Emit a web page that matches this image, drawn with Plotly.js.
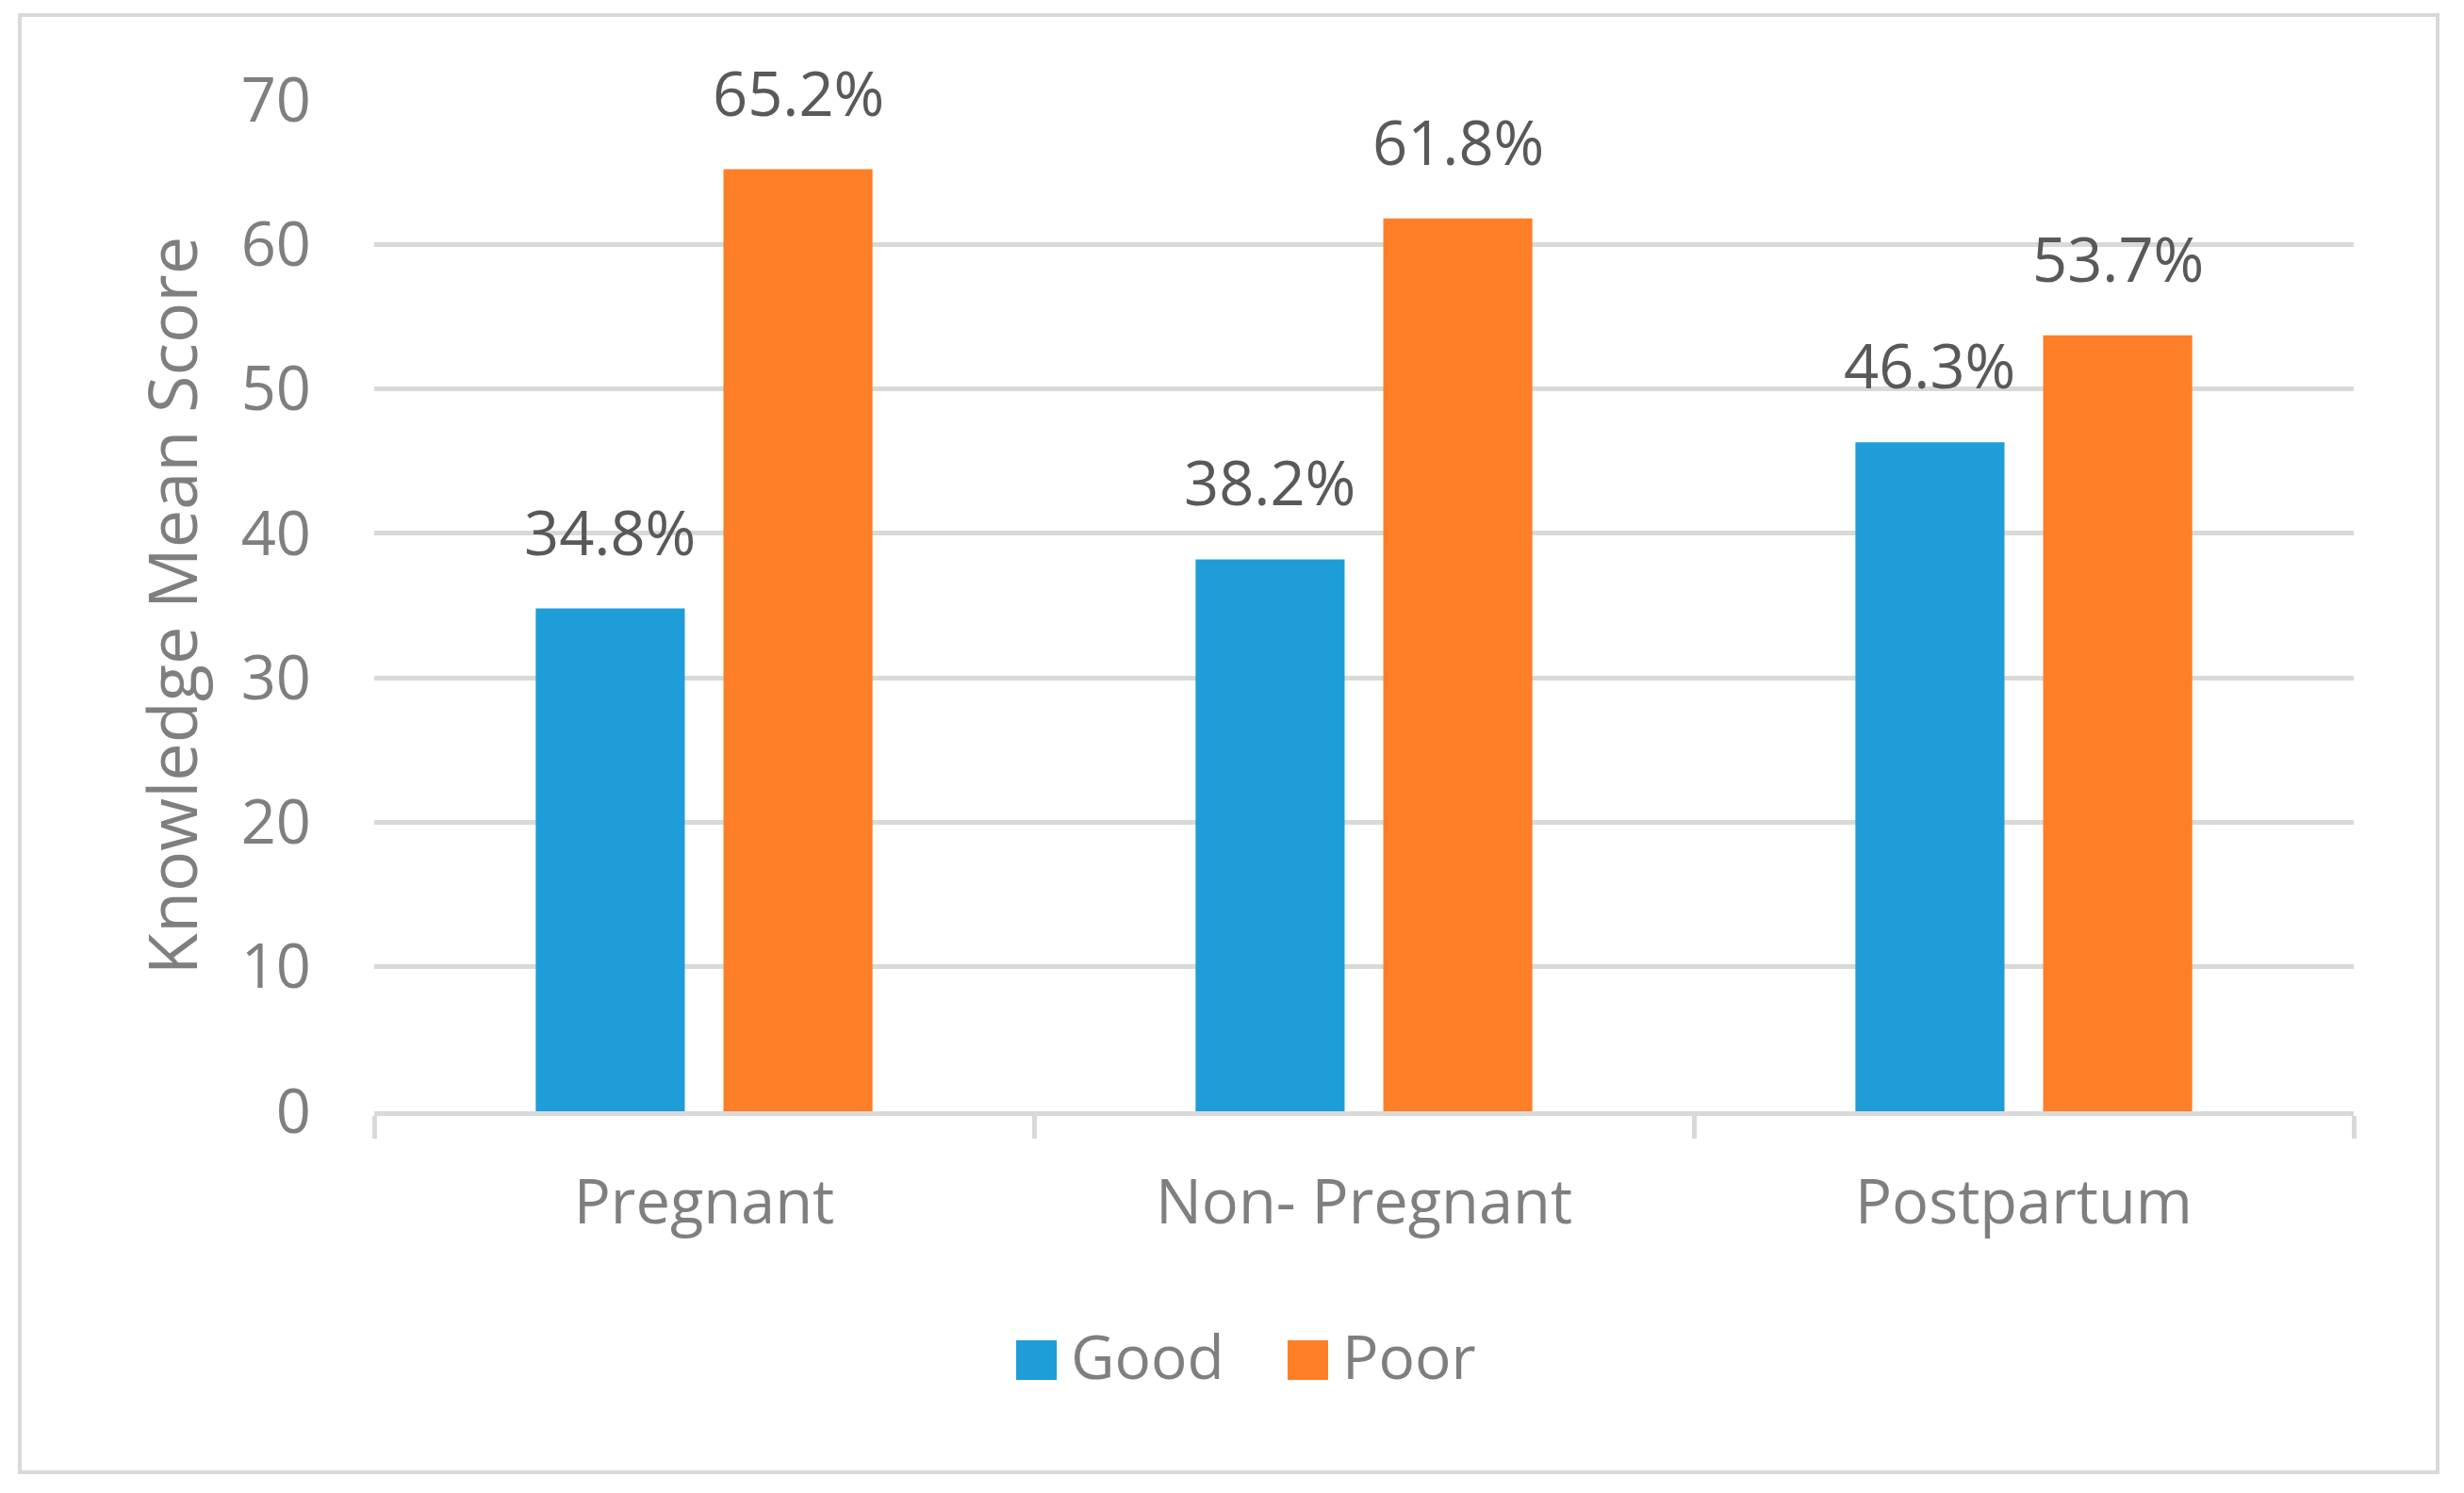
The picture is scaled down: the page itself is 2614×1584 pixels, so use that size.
<!DOCTYPE html>
<html>
<head>
<meta charset="utf-8">
<script src="https://cdn.plot.ly/plotly-3.0.1.min.js"></script>
<style>html,body{margin:0;padding:0;background:#fff;}#chart{width:2614px;height:1584px;}</style>
</head>
<body>
<div id="chart"></div>
<script>
// ---- data ----
const categories = ["Pregnant", "Non- Pregnant", "Postpartum"];
const seriesNames = ["Good", "Poor"];
const goodValues = [34.8, 38.2, 46.3];
const poorValues = [65.2, 61.8, 53.7];
const seriesColors = ["#1E9DD8", "#FE7F27"];
const yTickVals = [0, 10, 20, 30, 40, 50, 60, 70];
const yTitle = "Knowledge Mean Score";

// ---- layout constants ----
const W = 2614, H = 1584;
const M = {l: 397, r: 117, t: 106, b: 405};
const plotW = W - M.l - M.r, plotH = H - M.t - M.b;
const bargap = 0.431, bargroupgap = 0.206;
const FONT = "Open Sans, Liberation Sans, sans-serif";
const grey = "#7f7f7f", labelGrey = "#595959", lineGrey = "#d9d9d9";

const allValues = [goodValues, poorValues];
const traces = allValues.map((vals, i) => ({
  type: "bar",
  name: seriesNames[i],
  x: categories,
  y: vals,
  marker: {color: seriesColors[i], line: {width: 0}},
  showlegend: false,
  hoverinfo: "x+y+name"
}));

// data labels as annotations positioned on the axis scale
const catPx = plotW / categories.length;
const slotPx = catPx * (1 - bargap) / seriesNames.length;
const annotations = [];
allValues.forEach((vals, i) => {
  const off = (i - (seriesNames.length - 1) / 2) * slotPx;
  vals.forEach((v, j) => {
    annotations.push({
      x: categories[j], y: v, xref: "x", yref: "y",
      text: v.toFixed(1) + "%", showarrow: false,
      xanchor: "center", yanchor: "bottom",
      xshift: off, yshift: 36,
      font: {family: FONT, size: 65, color: labelGrey}
    });
  });
});

// custom legend (large swatches)
const shapes = [];
const legendY0 = -0.2265, legendY1 = -0.2656;
const swatchX = [0.3243, 0.4614];
const swatchW = 0.0205;
seriesNames.forEach((nm, i) => {
  shapes.push({type: "rect", xref: "paper", yref: "paper",
    x0: swatchX[i], x1: swatchX[i] + swatchW, y0: legendY1, y1: legendY0,
    fillcolor: seriesColors[i], line: {width: 0}});
  annotations.push({xref: "paper", yref: "paper", x: swatchX[i] + swatchW + 0.006,
    y: (legendY0 + legendY1) / 2 + 0.004, xanchor: "left", yanchor: "middle",
    text: nm, showarrow: false, font: {family: FONT, size: 64, color: grey}});
});
// outer chart border
shapes.push({type: "rect", xref: "paper", yref: "paper",
  x0: (21 - M.l) / plotW, x1: (2586 - M.l) / plotW,
  y0: -(1562 - (M.t + plotH)) / plotH, y1: 1 + (M.t - 16) / plotH,
  line: {color: lineGrey, width: 4}, fillcolor: "rgba(0,0,0,0)", layer: "below"});

const layout = {
  width: W, height: H,
  margin: M,
  paper_bgcolor: "#fff", plot_bgcolor: "#fff",
  barmode: "group", bargap: bargap, bargroupgap: bargroupgap,
  showlegend: false,
  font: {family: FONT, color: grey},
  xaxis: {
    type: "category",
    showline: true, linecolor: lineGrey, linewidth: 5,
    ticks: "outside", tickson: "boundaries", ticklen: 24, tickwidth: 5, tickcolor: lineGrey,
    tickfont: {family: FONT, size: 65, color: grey},
    ticklabelstandoff: 36,
    showgrid: false, zeroline: false, fixedrange: true
  },
  yaxis: {
    range: [0, 70], tickvals: yTickVals,
    showline: false, ticks: "", zeroline: false,
    showgrid: true, gridcolor: lineGrey, gridwidth: 5,
    tickfont: {family: FONT, size: 65, color: grey},
    ticklabelstandoff: 66,
    title: {text: yTitle, font: {family: FONT, size: 72, color: grey}, standoff: 22},
    automargin: false, fixedrange: true
  },
  annotations: annotations,
  shapes: shapes
};

Plotly.newPlot("chart", traces, layout, {displayModeBar: false, staticPlot: true});
</script>
</body>
</html>
